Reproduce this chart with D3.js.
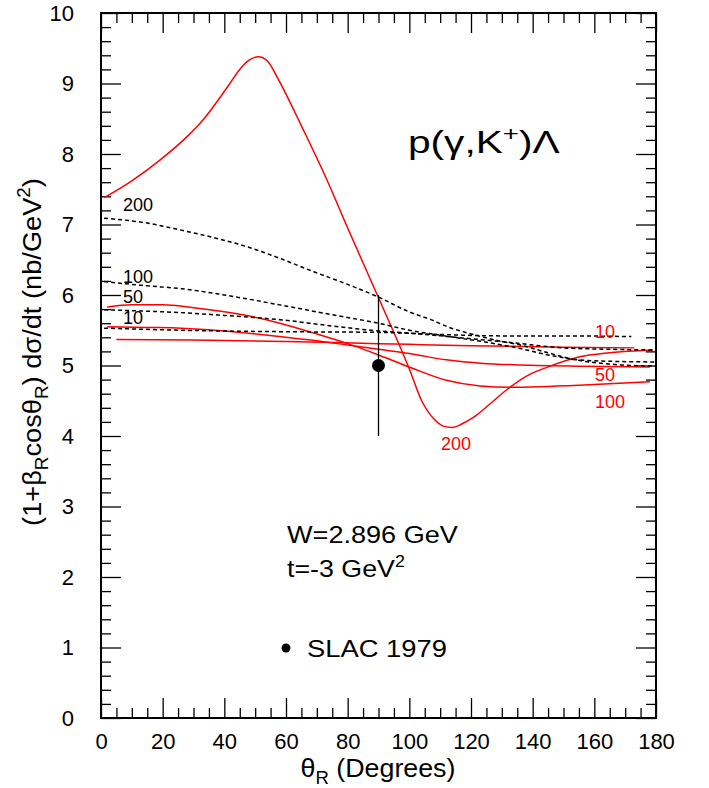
<!DOCTYPE html>
<html><head><meta charset="utf-8">
<script src="https://cdn.jsdelivr.net/npm/d3@7"></script>
<style>
body{margin:0;background:#fff}
text{font-family:"Liberation Sans",Arial,Helvetica,sans-serif;fill:#000}
</style>
</head><body>
<svg id="chart" width="709" height="788"></svg>
<script>
// ---- data (theta in degrees, value in nb/GeV^2) ----
const red10  = [[5,5.37],[30,5.36],[60,5.34],[90,5.31],[100,5.30],[120,5.28],[150,5.26],[173,5.25]];
const red50  = [[2,5.55],[15,5.54],[26,5.53],[40,5.49],[58,5.41],[70,5.35],[80,5.29],[90,5.23],[100,5.17],[112,5.08],[124,5.03],[134,5.01],[155,4.99],[178,4.98]];
const red100 = [[2,5.83],[10,5.86],[20,5.86],[30,5.82],[46,5.72],[58,5.60],[69,5.46],[80,5.31],[90,5.15],[101,4.96],[112,4.79],[123,4.71],[134,4.69],[155,4.72],[178,4.77]];
const red200 = [[1,7.38],[10,7.62],[19,7.91],[28,8.25],[33,8.48],[41,8.95],[45,9.20],[48,9.33],[51,9.38],[54,9.32],[57,9.10],[60,8.85],[65,8.40],[73,7.66],[80,6.95],[90,5.96],[100,4.95],[104,4.50],[108,4.24],[111,4.14],[114,4.12],[117,4.17],[121,4.27],[126,4.45],[132,4.67],[138,4.85],[145,4.98],[155,5.12],[165,5.18],[179,5.22]];
const dash10  = [[1,5.53],[26,5.50],[58,5.48],[90,5.47],[110,5.44],[130,5.42],[150,5.42],[172,5.41]];
const dash50  = [[1,5.79],[15,5.77],[26,5.75],[40,5.71],[58,5.65],[75,5.56],[90,5.49],[100,5.46],[115,5.40],[132,5.33],[150,5.25],[165,5.23],[180,5.22]];
const dash100 = [[1,6.19],[15,6.13],[26,6.09],[40,6.00],[58,5.86],[75,5.72],[90,5.60],[100,5.50],[110,5.43],[125,5.33],[136,5.24],[145,5.15],[155,5.08],[165,5.06],[180,5.05]];
const dash200 = [[1,7.09],[15,7.02],[26,6.92],[36,6.82],[47,6.69],[58,6.52],[69,6.33],[80,6.15],[90,5.97],[100,5.76],[107,5.65],[113,5.54],[119,5.46],[128,5.36],[136,5.29],[145,5.18],[154,5.08],[165,5.02],[180,4.99]];
const slacPoint = {theta:90, value:5.0, lo:4.0, hi:6.0};
const xMajorTicks = [0,20,40,60,80,100,120,140,160,180];
const yMajorTicks = [0,1,2,3,4,5,6,7,8,9,10];

const svg = d3.select("#chart");
const L=101, R=656, T=13, B=718;
const x = d3.scaleLinear().domain([0,180]).range([L,R]);
const y = d3.scaleLinear().domain([0,10]).range([B,T]);
const xMinor = d3.range(0,181,5).filter(v=>v%20!==0);
const yMinor = d3.range(0,50).map(i=>+(i*0.2).toFixed(1)).filter(v=>Math.abs(v-Math.round(v))>1e-6);

function styleAxis(g){ g.select(".domain").remove(); g.selectAll("line").attr("stroke","#000").attr("stroke-width",1.3); g.selectAll("text").attr("font-size",22).attr("font-family","Liberation Sans, Arial, sans-serif").attr("fill","#000"); }

// bottom
svg.append("g").attr("transform",`translate(0,${B})`).call(d3.axisBottom(x).tickValues(xMajorTicks).tickSize(-20).tickPadding(15).tickFormat(d3.format("d"))).call(styleAxis);
svg.append("g").attr("transform",`translate(0,${B})`).call(d3.axisBottom(x).tickValues(xMinor).tickSize(-10).tickFormat("")).call(styleAxis);
// top
svg.append("g").attr("transform",`translate(0,${T})`).call(d3.axisTop(x).tickValues(xMajorTicks).tickSize(-20).tickFormat("")).call(styleAxis);
svg.append("g").attr("transform",`translate(0,${T})`).call(d3.axisTop(x).tickValues(xMinor).tickSize(-10).tickFormat("")).call(styleAxis);
// left
svg.append("g").attr("transform",`translate(${L},0)`).call(d3.axisLeft(y).tickValues(yMajorTicks).tickSize(-20).tickPadding(27).tickFormat(d3.format("d"))).call(styleAxis);
svg.append("g").attr("transform",`translate(${L},0)`).call(d3.axisLeft(y).tickValues(yMinor).tickSize(-10).tickFormat("")).call(styleAxis);
// right
svg.append("g").attr("transform",`translate(${R},0)`).call(d3.axisRight(y).tickValues(yMajorTicks).tickSize(-20).tickFormat("")).call(styleAxis);
svg.append("g").attr("transform",`translate(${R},0)`).call(d3.axisRight(y).tickValues(yMinor).tickSize(-10).tickFormat("")).call(styleAxis);

// frame
svg.append("rect").attr("x",L).attr("y",T).attr("width",R-L).attr("height",B-T).attr("fill","none").attr("stroke","#000").attr("stroke-width",2);

const line = d3.line().x(d=>x(d[0])).y(d=>y(d[1])).curve(d3.curveMonotoneX);
[red10,red50,red100,red200].forEach(s=>{
  svg.append("path").datum(s).attr("d",line).attr("fill","none").attr("stroke","#ff0000").attr("stroke-width",1.5);
});
[dash10,dash50,dash100,dash200].forEach(s=>{
  svg.append("path").datum(s).attr("d",line).attr("fill","none").attr("stroke","#000").attr("stroke-width",1.5).attr("stroke-dasharray","4,3");
});

// data point
svg.append("line").attr("x1",x(slacPoint.theta)).attr("x2",x(slacPoint.theta)).attr("y1",y(slacPoint.lo)).attr("y2",y(slacPoint.hi)).attr("stroke","#000").attr("stroke-width",1.3);
svg.append("circle").attr("cx",x(slacPoint.theta)).attr("cy",y(slacPoint.value)).attr("r",6.5).attr("fill","#000");

// curve labels
const blackLabels = [["200",211],["100",283],["50",303],["10",324]];
blackLabels.forEach(([t,yy])=>svg.append("text").attr("x",123).attr("y",yy).attr("font-size",18).text(t));
const redLabels = [["10",595,338],["50",595,381],["100",595,408],["200",441,450]];
redLabels.forEach(([t,xx,yy])=>svg.append("text").attr("x",xx).attr("y",yy).attr("font-size",18).style("fill","#ff0000").text(t));

// helper: horizontally fit a text to a target width
function fitText(sel, tx, ty, targetW, extra){
  const w = sel.node().getBBox().width;
  const s = targetW / w;
  sel.attr("transform", `translate(${tx},${ty})${extra||""} scale(${s},1)`);
}

// title
const ttl = svg.append("text").attr("x",0).attr("y",0).attr("font-size",31);
ttl.append("tspan").text("p(γ,K");
ttl.append("tspan").attr("dy",-12).attr("font-size",21).text("+");
ttl.append("tspan").attr("dy",12).text(")Λ");
fitText(ttl, 408, 153, 152);

// annotations
const t1 = svg.append("text").attr("font-size",24).text("W=2.896 GeV");
fitText(t1, 287, 543, 171);
const t2 = svg.append("text").attr("font-size",24);
t2.append("tspan").text("t=-3 GeV");
t2.append("tspan").attr("dy",-10).attr("font-size",16).text("2");
fitText(t2, 287, 577, 118);
svg.append("circle").attr("cx",286).attr("cy",648).attr("r",4.5).attr("fill","#000");
const t3 = svg.append("text").attr("font-size",24).text("SLAC 1979");
fitText(t3, 307, 657, 140);

// x axis title
const xt = svg.append("text").attr("text-anchor","middle").attr("font-size",26);
xt.append("tspan").text("θ");
xt.append("tspan").attr("dy",7).attr("font-size",18).text("R");
xt.append("tspan").attr("dy",-7).text(" (Degrees)");
fitText(xt, 378, 777, 155);

// y axis title
const yt = svg.append("text").attr("text-anchor","middle").attr("font-size",26);
yt.append("tspan").text("(1+β");
yt.append("tspan").attr("dy",7).attr("font-size",18).text("R");
yt.append("tspan").attr("dy",-7).text("cosθ");
yt.append("tspan").attr("dy",7).attr("font-size",18).text("R");
yt.append("tspan").attr("dy",-7).text(") dσ/dt (nb/GeV");
yt.append("tspan").attr("dy",-11).attr("font-size",18).text("2");
yt.append("tspan").attr("dy",11).text(")");
fitText(yt, 41, 352, 348, " rotate(-90)");
</script>
</body></html>
